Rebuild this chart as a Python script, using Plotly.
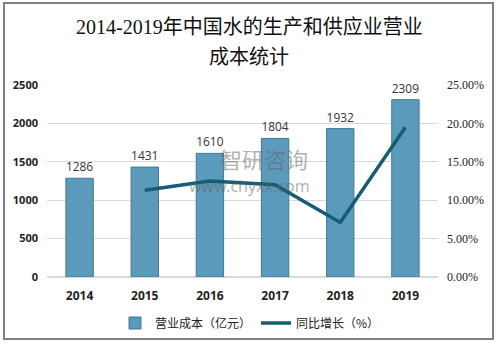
import plotly.graph_objects as go

years = ["2014", "2015", "2016", "2017", "2018", "2019"]
cost = [1286, 1431, 1610, 1804, 1932, 2309]
growth_years = ["2015", "2016", "2017", "2018", "2019"]
growth = [11.3, 12.5, 12.0, 7.1, 19.5]

W, H = 498, 345
L, R, T, B = 47, 60, 85, 68
pw, ph = W - L - R, H - T - B

def px(x):
    return (x - L) / pw

def py(y):
    return (H - B - y) / ph

fig = go.Figure()
fig.add_trace(go.Bar(
    x=years, y=cost, name="营业成本（亿元）",
    marker=dict(color="#5b9abb", line=dict(color="#3f7a96", width=1)),
    width=0.42,
    text=[str(v) for v in cost], textposition="outside",
    textfont=dict(family="Open Sans, Noto Sans CJK SC", size=12, color="#333333"),
    cliponaxis=False,
))
fig.add_trace(go.Scatter(
    x=growth_years, y=growth, name="同比增长（%）", yaxis="y2",
    mode="lines", line=dict(color="#155d74", width=3.5),
))

fig.update_layout(
    width=W, height=H,
    margin=dict(l=L, r=R, t=T, b=B, autoexpand=False),
    paper_bgcolor="white", plot_bgcolor="white",
    xaxis=dict(
        type="category", showgrid=False, showline=False, ticks="", automargin=False,
        ticklabelstandoff=10,
        tickfont=dict(family="Open Sans, Noto Sans CJK SC", size=12, color="#222222", weight="bold"),
    ),
    yaxis=dict(
        range=[0, 2500], tickvals=[0, 500, 1000, 1500, 2000, 2500], automargin=False,
        showgrid=True, gridcolor="#d9d9d9", gridwidth=1, zeroline=True,
        zerolinecolor="#d9d9d9", showline=False, ticks="", ticklabelstandoff=8,
        tickfont=dict(family="Open Sans, Noto Sans CJK SC", size=11, color="#222222", weight="bold"),
    ),
    yaxis2=dict(
        overlaying="y", side="right", range=[0, 25], automargin=False,
        tickvals=[0, 5, 10, 15, 20, 25],
        ticktext=["0.00%", "5.00%", "10.00%", "15.00%", "20.00%", "25.00%"],
        showgrid=False, zeroline=False, showline=False, ticks="", ticklabelstandoff=8,
        tickfont=dict(family="Liberation Serif, Noto Sans CJK SC", size=12, color="#222222"),
    ),
    legend=dict(
        orientation="h", x=px(250), xanchor="center", y=py(323), yanchor="middle",
        font=dict(family="Noto Sans CJK SC", size=12, color="#222222"),
        itemwidth=30, bgcolor="rgba(0,0,0,0)", tracegroupgap=0,
    ),
    showlegend=True,
    bargap=0.58,
)

title_font = dict(family="Liberation Serif, Noto Sans CJK SC", size=20, color="#111111")
fig.add_annotation(text="2014-2019年中国水的生产和供应业营业", xref="paper", yref="paper",
                   x=px(249), y=py(27), showarrow=False, font=title_font,
                   xanchor="center", yanchor="middle")
fig.add_annotation(text="成本统计", xref="paper", yref="paper",
                   x=px(249), y=py(57), showarrow=False, font=title_font,
                   xanchor="center", yanchor="middle")

fig.add_shape(type="rect", xref="paper", yref="paper",
              x0=px(4), x1=px(493), y0=py(339), y1=py(3),
              line=dict(color="#808080", width=2), fillcolor="rgba(0,0,0,0)", layer="above")

fig.add_annotation(
    text="智研咨询", xref="paper", yref="paper", x=px(264), y=py(158), showarrow=False,
    font=dict(family="Noto Sans CJK SC", size=22, color="rgba(100,100,100,0.5)"),
)
fig.add_annotation(
    text="www.chyxx.com", xref="paper", yref="paper", x=px(249), y=py(186), showarrow=False,
    font=dict(family="Noto Sans", size=16, color="rgba(100,100,100,0.5)"),
)

fig.write_html("out.html")
